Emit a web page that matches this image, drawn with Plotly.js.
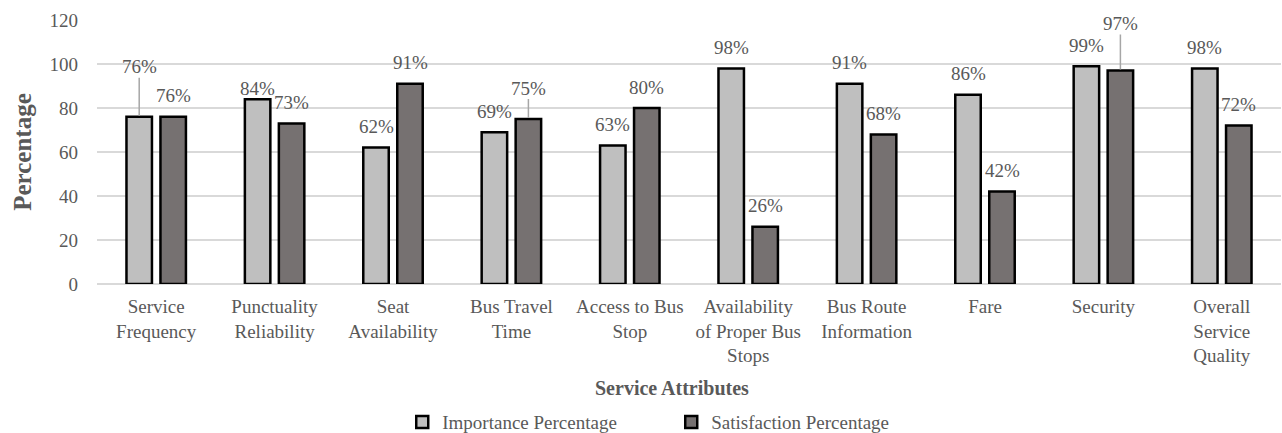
<!DOCTYPE html>
<html>
<head>
<meta charset="utf-8">
<script src="https://cdn.plot.ly/plotly-3.0.1.min.js"></script>
<style>
  html, body { margin: 0; padding: 0; background: #ffffff; }
  #chart { width: 1282px; height: 433px; }
</style>
</head>
<body>
<div id="chart"></div>
<script>
// Service attributes and their multi-line axis labels
const categories = [
  "Service Frequency", "Punctuality Reliability", "Seat Availability",
  "Bus Travel Time", "Access to Bus Stop", "Availability of Proper Bus Stops",
  "Bus Route Information", "Fare", "Security", "Overall Service Quality"
];
const tickLabels = [
  "Service<br>Frequency", "Punctuality<br>Reliability", "Seat<br>Availability",
  "Bus Travel<br>Time", "Access to Bus<br>Stop", "Availability<br>of Proper Bus<br>Stops",
  "Bus Route<br>Information", "Fare", "Security", "Overall<br>Service<br>Quality"
];

// Percentages per attribute
const importance   = [76, 84, 62, 69, 63, 98, 91, 86, 99, 98];
const satisfaction = [76, 73, 91, 75, 80, 26, 68, 42, 97, 72];

const yTicks = [0, 20, 40, 60, 80, 100, 120];

// Label placement: pixels from bar top to label centre; a few labels sit higher on a leader line
const defaultRise = 21;
const importanceRise   = {0: 50, 1: 11};
const satisfactionRise = {3: 31, 8: 47};
const leaderLabels = {importance: [0], satisfaction: [3, 8]};

const FONT = 'Liberation Serif, Times New Roman, serif';
const TEXT = '#595959';

const traces = [
  {
    type: 'bar', name: 'Importance Percentage',
    x: categories, y: importance,
    marker: {color: '#bfbfbf', line: {color: '#000000', width: 2.5}}
  },
  {
    type: 'bar', name: 'Satisfaction Percentage',
    x: categories, y: satisfaction,
    marker: {color: '#767171', line: {color: '#000000', width: 2.5}}
  }
];

function labelAnnotations(values, shift, rises, leaders) {
  return values.map((v, i) => {
    const rise = rises[i] !== undefined ? rises[i] : defaultRise;
    const base = {
      x: categories[i], y: v, xref: 'x', yref: 'y',
      xshift: shift, text: v + '%',
      font: {family: FONT, size: 19, color: TEXT}
    };
    if (leaders.includes(i)) {
      return Object.assign(base, {
        showarrow: true, arrowhead: 0, arrowwidth: 1.5, arrowcolor: '#a6a6a6',
        ax: 0, ay: -rise, standoff: 1, borderpad: 0
      });
    }
    return Object.assign(base, {showarrow: false, yanchor: 'middle', yshift: rise});
  });
}

const annotations = [].concat(
  labelAnnotations(importance, -17, importanceRise, leaderLabels.importance),
  labelAnnotations(satisfaction, 17, satisfactionRise, leaderLabels.satisfaction),
  [{
    text: '<b>Service Attributes</b>', xref: 'paper', yref: 'paper',
    x: 0.4856, y: -0.394, xanchor: 'center', yanchor: 'middle', showarrow: false,
    font: {family: FONT, size: 20, color: TEXT}
  }]
);

const layout = {
  width: 1282, height: 433,
  margin: {l: 97, r: 1, t: 20, b: 149, autoexpand: false},
  paper_bgcolor: '#ffffff', plot_bgcolor: '#ffffff',
  font: {family: FONT, size: 19, color: TEXT},
  barmode: 'group', bargap: 0.426, bargroupgap: 0.25,
  showlegend: true,
  legend: {
    orientation: 'h', x: 0.485, xanchor: 'center', y: -0.523, yanchor: 'middle',
    font: {family: FONT, size: 19, color: TEXT}, entrywidth: 224,
    bgcolor: 'rgba(0,0,0,0)'
  },
  xaxis: {
    type: 'category', tickvals: categories, ticktext: tickLabels,
    showgrid: false, zeroline: false, showline: false, ticks: '',
    ticklabelstandoff: 9,
    tickfont: {family: FONT, size: 19, color: TEXT}
  },
  yaxis: {
    range: [0, 120], tickvals: yTicks, ticktext: yTicks.map(String),
    showgrid: true, gridcolor: '#d9d9d9', gridwidth: 1.5,
    zeroline: true, zerolinecolor: '#d9d9d9', zerolinewidth: 2,
    showline: false, ticks: '', ticklabelstandoff: 18,
    tickfont: {family: FONT, size: 19, color: TEXT},
    title: {text: '<b>Percentage</b>', standoff: 10, font: {family: FONT, size: 25, color: TEXT}}
  },
  annotations: annotations
};

Plotly.newPlot('chart', traces, layout, {staticPlot: true, displayModeBar: false});
</script>
</body>
</html>
